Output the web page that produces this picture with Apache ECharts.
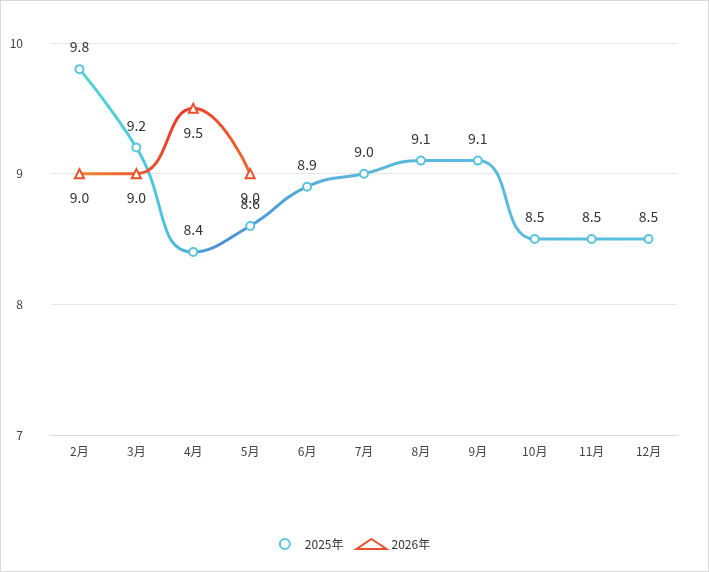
<!DOCTYPE html>
<html>
<head>
<meta charset="utf-8">
<script src="https://cdn.jsdelivr.net/npm/echarts@6/dist/echarts.min.js"></script>
<style>
html,body{margin:0;padding:0;background:#fff;}
#chart{width:707px;height:570px;border:1px solid #d9d9d9;}
</style>
</head>
<body>
<div id="chart"></div>
<script>
var months = ['2月','3月','4月','5月','6月','7月','8月','9月','10月','11月','12月'];
var y2025 = [9.8, 9.2, 8.4, 8.6, 8.9, 9.0, 9.1, 9.1, 8.5, 8.5, 8.5];
var y2026 = [9.0, 9.0, 9.5, 9.0];

var chart = echarts.init(document.getElementById('chart'));
function grad(stops){
  return new echarts.graphic.LinearGradient(0,0,1,0,stops.map(function(s){return {offset:s[0],color:s[1]};}));
}
chart.setOption({
  animation:false,
  textStyle:{fontFamily:'"Noto Sans CJK SC", "Noto Sans", sans-serif'},
  grid:{left:50,right:31,top:42,bottom:136},
  legend:{bottom:16,itemWidth:30,itemHeight:10,itemGap:12,textStyle:{color:'#333',fontSize:12},
    data:[{name:'2025年',icon:'emptyCircle'},{name:'2026年',icon:'emptyTriangle'}]},
  xAxis:{type:'category',data:months,boundaryGap:true,
    axisLine:{lineStyle:{color:'#d9d9d9'}},axisTick:{lineStyle:{color:'#d9d9d9'},length:5},
    axisLabel:{color:'#444',fontSize:12,margin:10}},
  yAxis:{type:'value',min:7,max:10,interval:1,
    axisLine:{show:false},axisTick:{show:false},
    axisLabel:{color:'#444',fontSize:12,margin:28},
    splitLine:{lineStyle:{color:'#e6e6e6'}}},
  series:[
    {name:'2025年',type:'line',data:y2025,smooth:0.5,
     symbol:'emptyCircle',symbolSize:8,
     lineStyle:{width:3,color:grad([[0,'#4fd6d6'],[0.15,'#4fc4dc'],[0.25,'#4a8fd4'],[0.45,'#5ab4dc'],[1,'#5bc0de']])},
     itemStyle:{color:'#5bc3dc',borderWidth:2.5},
     label:{show:true,position:'top',distance:10,color:'#333',fontSize:14,formatter:function(p){return p.value.toFixed(1);}}},
    {name:'2026年',type:'line',data:y2026,smooth:0.5,
     symbol:'emptyTriangle',symbolSize:9,
     lineStyle:{width:3,color:grad([[0,'#f08a30'],[0.6,'#e8372a'],[1,'#ef6a2c']])},
     itemStyle:{color:'#e8502a',borderWidth:2.5},
     label:{show:true,position:'bottom',distance:12,color:'#333',fontSize:14,formatter:function(p){return p.value.toFixed(1);}}}
  ]
});
</script>
</body>
</html>
